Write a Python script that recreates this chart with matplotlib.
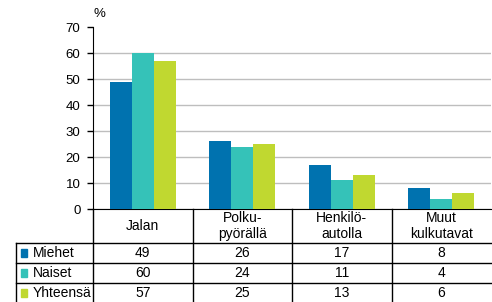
import numpy as np
import matplotlib.pyplot as plt
from matplotlib.lines import Line2D
from matplotlib.patches import Rectangle
import matplotlib.transforms as mtransforms

plt.rcParams['font.family'] = ['Liberation Sans', 'DejaVu Sans']
plt.rcParams['font.size'] = 8

# data
categories = ['Jalan', 'Polku-\npyörällä', 'Henkilö-\nautolla', 'Muut\nkulkutavat']
series = ['Miehet', 'Naiset', 'Yhteensä']
miehet = [49, 26, 17, 8]
naiset = [60, 24, 11, 4]
yhteensa = [57, 25, 13, 6]
colors = ['#0072AF', '#35C2B8', '#C0D830']

values = [miehet, naiset, yhteensa]

fig = plt.figure(figsize=(4.92, 3.02), dpi=100)
ax = fig.add_axes([93 / 492, 1 - 209 / 302, 398 / 492, 182 / 302])

x = np.arange(len(categories))
w = 0.222
for i, (name, vals) in enumerate(zip(series, values)):
    ax.bar(x + (i - 1) * w, vals, width=w, color=colors[i], zorder=3)

ax.set_xlim(-0.5, len(categories) - 0.5)
ax.set_ylim(0, 70)
ax.set_yticks(range(0, 71, 10))
ax.yaxis.grid(True, color='#BEBEBE', linewidth=1, zorder=0)
ax.set_xticks([])
for s in ['top', 'right']:
    ax.spines[s].set_visible(False)
ax.spines['left'].set_color('black')
ax.spines['bottom'].set_color('black')
ax.tick_params(axis='y', length=4, width=1, pad=5, labelsize=9.5)
# no gridline at the top value
ax.get_ygridlines()[-1].set_visible(False)
ax.text(0.0, 1.04, '%', transform=ax.transAxes, fontsize=9.5, ha='left', va='bottom')

# table below the axes
trans = mtransforms.blended_transform_factory(ax.transData, ax.transAxes)
row_h = 20 / 182
head_b = -34 / 182
row_bottoms = [head_b - row_h * (k + 1) for k in range(len(series))]
left_x = -0.5 - 77 / 99.5
right_x = len(categories) - 0.5 + 0.02
lw = 1.0
fs = 10

def hline(y, x0, x1):
    ax.add_line(Line2D([x0, x1], [y, y], transform=trans, color='black',
                       lw=lw, clip_on=False))

def vline(xv, y0, y1):
    ax.add_line(Line2D([xv, xv], [y0, y1], transform=trans, color='black',
                       lw=lw, clip_on=False))

hline(head_b, left_x, right_x)
for rb in row_bottoms:
    hline(rb, left_x, right_x)
vline(left_x, head_b, row_bottoms[-1])
vline(-0.5, 0, row_bottoms[-1])
for b in np.arange(0.5, len(categories) - 0.5, 1.0):
    vline(b, 0, row_bottoms[-1])

for j, cat in enumerate(categories):
    ax.text(j, head_b / 2, cat, transform=trans, ha='center', va='center',
            fontsize=fs, linespacing=1.15)

for i, name in enumerate(series):
    yc = row_bottoms[i] + row_h / 2
    ax.add_patch(Rectangle((left_x + 0.055, yc - 0.02), 0.06, 0.04,
                           transform=trans, color=colors[i], clip_on=False))
    ax.text(left_x + 0.17, yc, name, transform=trans, ha='left', va='center',
            fontsize=fs)
    for j, v in enumerate(values[i]):
        ax.text(j, yc, str(v), transform=trans, ha='center', va='center',
                fontsize=fs)

fig.savefig('out.png', dpi=100)
